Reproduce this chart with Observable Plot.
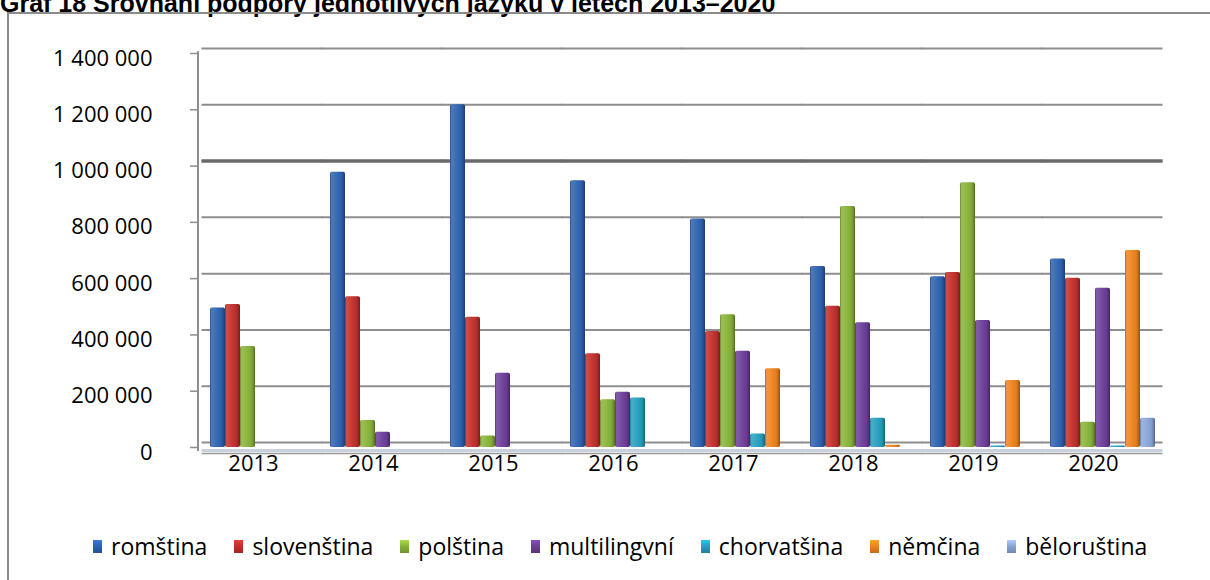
<!DOCTYPE html>
<html><head><meta charset="utf-8">
<script src="https://cdn.jsdelivr.net/npm/d3@7"></script>
<script src="https://cdn.jsdelivr.net/npm/@observablehq/plot@0.6"></script>
<style>
html,body{margin:0;padding:0;background:#fff;width:1210px;height:580px;overflow:hidden;position:relative;}
#title{position:absolute;left:0;top:-11px;font:bold 25px "Liberation Sans",Arial,sans-serif;white-space:nowrap;color:#000;}
#frame{position:absolute;left:7px;top:12px;width:1300px;height:700px;border:2px solid #8c8c8c;box-sizing:border-box;}
#chart{position:absolute;left:0;top:0;}
#legend{position:absolute;left:93px;top:531px;display:flex;align-items:center;font:23px "Open Sans",sans-serif;white-space:nowrap;color:#000;line-height:30px;}
.item{display:flex;align-items:center;margin-right:27px}
.sw{width:9px;height:13px;margin-right:9px;}
</style></head><body>
<div id="title">Graf 18 Srovnání podpory jednotlivých jazyků v letech 2013–2020</div>
<div id="frame"></div>
<div id="chart"></div>
<div id="legend"></div>
<script>
const years = ["2013","2014","2015","2016","2017","2018","2019","2020"];
const languages = ["romština","slovenština","polština","multilingvní","chorvatšina","němčina","běloruština"];
const colors = ["#2f63b3","#c1302c","#8ab43b","#6e3f9c","#27a1bf","#f0841f","#8ba7da"];
const romstina     = [496000, 978000, 1218000, 948000, 812000, 643000, 607000, 670000];
const slovenstina  = [508000, 536000, 463000, 333000, 412000, 502000, 622000, 601000];
const polstina     = [359000, 96000, 41000, 170000, 472000, 856000, 941000, 90000];
const multilingvni = [null, 54000, 264000, 196000, 342000, 443000, 451000, 566000];
const chorvatsina  = [null, null, null, 176000, 48000, 104000, 5000, 5000];
const nemcina      = [null, null, null, null, 280000, 8000, 238000, 700000];
const beloruština  = [null, null, null, null, null, null, null, 104000];
const yTicks = [0, 200000, 400000, 600000, 800000, 1000000, 1200000, 1400000];

const series = [romstina, slovenstina, polstina, multilingvni, chorvatsina, nemcina, beloruština];
const data = [];
languages.forEach((lang, i) => series[i].forEach((v, j) => {
  if (v != null) data.push({year: years[j], lang, value: v});
}));
// left wall of the 3D plot area: anchored to the first category of the first group
const wallTicks = yTicks.map(v => ({year: years[0], lang: languages[0], v}));

const fmt = d => d3.format(",")(d).replace(/,/g, " ");
const gap = {insetLeft: -6.5, insetRight: -6.5};

const chart = Plot.plot({
  width: 1210, height: 490,
  marginLeft: 202, marginRight: 48, marginTop: 53, marginBottom: 43,
  style: {fontFamily: "'Open Sans', sans-serif", fontSize: "22px", color: "#000", background: "transparent", overflow: "visible"},
  fx: {domain: years, paddingInner: 0.1, paddingOuter: 0.05, label: null},
  x: {domain: languages, padding: 0, axis: null},
  y: {domain: [0, 1400000], label: null},
  color: {domain: languages, range: colors},
  marks: [
    Plot.ruleY(yTicks, {stroke: "#8e8e8e", strokeWidth: 2, dy: -5, ...gap}),
    Plot.ruleY([1000000], {stroke: "#6a6a6a", strokeWidth: 3.5, dy: -5, ...gap}),
    Plot.ruleY([0], {stroke: "#c9d0de", strokeWidth: 3, dy: 3, ...gap}),
    Plot.ruleY([0], {stroke: "#999999", strokeWidth: 1.6, dy: 6, ...gap}),
    Plot.ruleX([wallTicks[0]], {fx: "year", x: "lang", y1: 0, y2: 1420000, dx: -20, dy: 4, stroke: "#8e8e8e", strokeWidth: 2}),
    Plot.tickY(wallTicks, {fx: "year", x: "lang", y: "v", dx: -20, dy: 0, insetRight: 6, stroke: "#8e8e8e", strokeWidth: 1.5}),
    Plot.barY(data, {fx: "year", x: "lang", y: "value", fill: "lang", rx: 2}),
    Plot.barY(data, {fx: "year", x: "lang", y: "value", fill: "url(#shade)", rx: 2}),
    Plot.axisY(yTicks, {tickFormat: fmt, tickSize: 0, tickPadding: 56, dy: 5, fontSize: 22, label: null}),
    Plot.axisFx({anchor: "bottom", tickSize: 0, tickPadding: 8, dx: -9, fontSize: 22, label: null})
  ]
});

const svg = d3.select(chart);
const defs = svg.insert("defs", ":first-child");
const g = defs.append("linearGradient").attr("id", "shade").attr("x1", 0).attr("x2", 1).attr("y1", 0).attr("y2", 0);
[[0, "#000", 0.3], [0.12, "#fff", 0.15], [0.4, "#fff", 0.06], [0.75, "#000", 0.05], [0.88, "#000", 0.2], [1, "#000", 0.4]]
  .forEach(([o, c, a]) => g.append("stop").attr("offset", o).attr("stop-color", c).attr("stop-opacity", a));
document.getElementById("chart").appendChild(chart);

const legend = d3.select("#legend");
languages.forEach((lang, i) => {
  const it = legend.append("div").attr("class", "item");
  it.append("div").attr("class", "sw")
    .style("background", `linear-gradient(180deg, ${d3.color(colors[i]).brighter(0.6)} 0%, ${colors[i]} 45%, ${d3.color(colors[i]).darker(0.6)} 100%)`);
  it.append("span").text(lang);
});
</script></body></html>
